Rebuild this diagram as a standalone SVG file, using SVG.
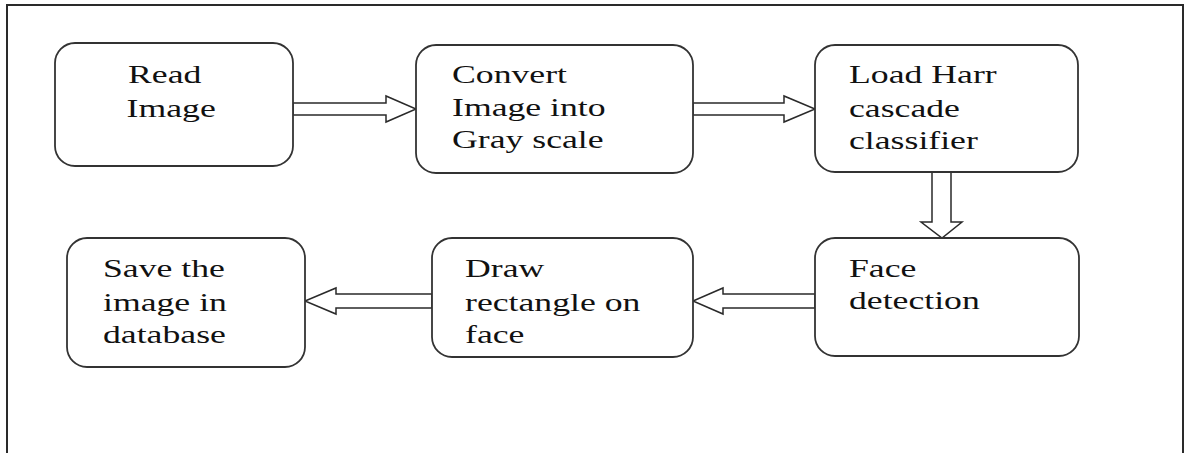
<svg xmlns="http://www.w3.org/2000/svg" width="1186" height="453" viewBox="0 0 1186 453">
  <style>
    .frame { fill: #ffffff; stroke: #2a2a2a; stroke-width: 2; }
    .box { fill: #ffffff; stroke: #333333; stroke-width: 1.8; }
    .arrow { fill: #ffffff; stroke: #2a2a2a; stroke-width: 1.5; stroke-linejoin: miter; }
    .label { font-family: "Liberation Serif", "Times New Roman", serif; font-size: 25.5px; fill: #111111; }
  </style>

  <!-- page frame (bottom edge runs off the sheet) -->
  <rect class="frame" x="7" y="5" width="1176" height="470"/>

  <!-- connectors: hollow block arrows -->
  <g id="connectors">
    <polygon class="arrow" points="293,103 386,103 386,96 416,109 386,122 386,115 293,115"/>
    <polygon class="arrow" points="693,103 784,103 784,96 815,109 784,122 784,115 693,115"/>
    <polygon class="arrow" points="932,172 951,172 951,222 962,222 942,238 921,222 932,222"/>
    <polygon class="arrow" points="815,294 723,294 723,288 693,301 723,314 723,308 815,308"/>
    <polygon class="arrow" points="432,294 336,294 336,288 305,301 336,314 336,308 432,308"/>
  </g>

  <g id="read-image">
    <rect class="box" x="55" y="43" width="238" height="123" rx="20" ry="20"/>
    <text class="label" transform="matrix(1.4 0 0 1 128 0)"><tspan x="0" y="83">Read</tspan><tspan x="-1" y="117">Image</tspan></text>
  </g>

  <g id="convert-gray">
    <rect class="box" x="416" y="45" width="277" height="128" rx="20" ry="20"/>
    <text class="label" transform="matrix(1.4 0 0 1 452 0)"><tspan x="0" y="83">Convert</tspan><tspan x="0" y="116">Image into</tspan><tspan x="0" y="148">Gray scale</tspan></text>
  </g>

  <g id="load-cascade">
    <rect class="box" x="815" y="45" width="263" height="127" rx="20" ry="20"/>
    <text class="label" transform="matrix(1.4 0 0 1 849 0)"><tspan x="0" y="83">Load Harr</tspan><tspan x="0" y="117">cascade</tspan><tspan x="0" y="149">classifier</tspan></text>
  </g>

  <g id="face-detection">
    <rect class="box" x="815" y="238" width="264" height="118" rx="20" ry="20"/>
    <text class="label" transform="matrix(1.4 0 0 1 849 0)"><tspan x="0" y="277">Face</tspan><tspan x="0" y="309">detection</tspan></text>
  </g>

  <g id="draw-rectangle">
    <rect class="box" x="432" y="238" width="261" height="119" rx="20" ry="20"/>
    <text class="label" transform="matrix(1.4 0 0 1 465 0)"><tspan x="0" y="277">Draw</tspan><tspan x="0" y="311">rectangle on</tspan><tspan x="0" y="343">face</tspan></text>
  </g>

  <g id="save-image">
    <rect class="box" x="67" y="238" width="238" height="129" rx="20" ry="20"/>
    <text class="label" transform="matrix(1.4 0 0 1 103 0)"><tspan x="0" y="277">Save the</tspan><tspan x="0" y="311">image in</tspan><tspan x="0" y="343">database</tspan></text>
  </g>
</svg>
